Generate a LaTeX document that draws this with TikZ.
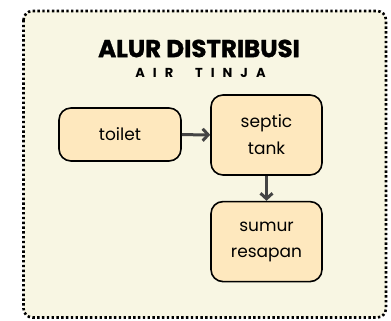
\documentclass[tikz,border=0pt]{standalone}
\usepackage{fontspec}
\setmainfont{Poppins}
\usetikzlibrary{arrows.meta, positioning}
\definecolor{panelbg}{HTML}{F8F6E3}
\definecolor{boxfill}{HTML}{FEE8BE}
\definecolor{arrowgray}{HTML}{444444}

\begin{document}
\begin{tikzpicture}[x=1pt, y=1pt, node distance=30pt]
\useasboundingbox (0,0) rectangle (391,-321);
\fill [white] (0,0) rectangle (391,-321);
\draw [line width=2.6pt, dash pattern=on 2.4pt off 2.4pt, rounded corners=9pt, fill=panelbg] (23.5,-11) rectangle (386,-317.5);

\node (title) [font=\fontsize{24.5}{26}\selectfont\bfseries\addfontfeatures{FakeBold=1.2}] at (199,-48.5) {ALUR DISTRIBUSI};
\node (subtitle) [font=\fontsize{13}{14}\selectfont\bfseries\addfontfeatures{LetterSpace=62}] at (200.5,-72.7) {AIR\ \ TINJA};

\node (toilet) [rectangle, rounded corners=12pt, draw, line width=1.6pt, fill=boxfill, align=center, minimum width=122pt, minimum height=53pt, font=\fontsize{17}{26}\selectfont] at (120,-134.5) {toilet};
\node (septic) [rectangle, rounded corners=12pt, draw, line width=1.6pt, fill=boxfill, align=center, minimum width=111pt, minimum height=80pt, font=\fontsize{17}{27}\selectfont] at (266.5,-135) {septic\\tank};
\node (sumur) [rectangle, rounded corners=12pt, draw, line width=1.6pt, fill=boxfill, align=center, minimum width=111pt, minimum height=80pt, below=25pt of septic, font=\fontsize{17}{26}\selectfont] {sumur\\resapan};

\draw [-{Straight Barb[length=5.5pt, width=12pt]}, line width=3pt, arrowgray] (toilet) -- (septic);
\draw [-{Straight Barb[length=5.5pt, width=12pt]}, line width=3pt, arrowgray] (septic) -- (sumur);
\end{tikzpicture}
\end{document}
